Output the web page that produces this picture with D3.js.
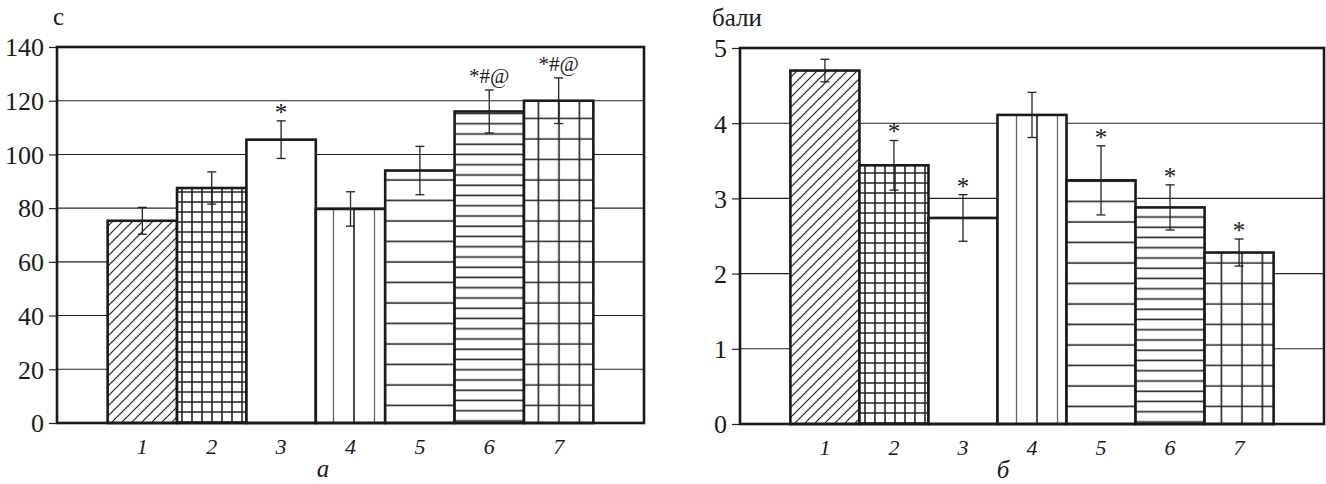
<!DOCTYPE html>
<html>
<head>
<meta charset="utf-8">
<script src="https://d3js.org/d3.v7.min.js"></script>
<style>
  body { margin: 0; background: #fff; }
  svg text { font-family: "Liberation Serif", "Times New Roman", serif; fill: #1a1a1a; }
</style>
</head>
<body>
<div id="chart"></div>
<script>
// groups 1..7, same in both panels
const groups = ["1", "2", "3", "4", "5", "6", "7"];

// panel а: time, s
const timeValues = [75.3, 87.5, 105.5, 79.7, 94, 116, 120];
const timeErrors = [5, 6, 7, 6.4, 9, 8, 8.5];
const timeMarks = ["", "", "*", "", "", "*#@", "*#@"];
const timeTicks = [0, 20, 40, 60, 80, 100, 120, 140];

// panel б: score
const scoreValues = [4.7, 3.44, 2.74, 4.11, 3.24, 2.88, 2.28];
const scoreErrors = [0.15, 0.33, 0.31, 0.3, 0.46, 0.3, 0.18];
const scoreMarks = ["", "*", "*", "", "*", "*", "*"];
const scoreTicks = [0, 1, 2, 3, 4, 5];

const fills = ["url(#diag)", "url(#fineGrid)", "#fff", "url(#vert)", "url(#horiz)", "url(#fineHoriz)", "url(#grid)"];

const width = 1326, height = 484;

const svg = d3.select("#chart").append("svg")
  .attr("width", width)
  .attr("height", height)
  .attr("font-family", "Liberation Serif, serif");

// hatch patterns
const defs = svg.append("defs");

function pattern(id, w, h, draw) {
  const p = defs.append("pattern")
    .attr("id", id)
    .attr("patternUnits", "userSpaceOnUse")
    .attr("width", w).attr("height", h);
  p.append("rect").attr("width", w).attr("height", h).attr("fill", "#fff");
  draw(p);
}

pattern("diag", 10, 10, p => {
  p.append("path")
    .attr("d", "M0,10L10,0M-2.5,2.5L2.5,-2.5M7.5,12.5L12.5,7.5")
    .attr("stroke", "#222").attr("stroke-width", 1.2);
});
pattern("fineGrid", 10, 10, p => {
  p.append("path").attr("d", "M5,0V10M0,5H10")
    .attr("stroke", "#222").attr("stroke-width", 1.6);
});
pattern("vert", 41, 10, p => {
  p.append("path").attr("d", "M10,0V10")
    .attr("stroke", "#222").attr("stroke-width", 1.6);
  p.append("path").attr("d", "M30.5,0V10")
    .attr("stroke", "#666").attr("stroke-width", 1.3);
});
pattern("horiz", 10, 20.5, p => {
  p.append("path").attr("d", "M0,10H10")
    .attr("stroke", "#222").attr("stroke-width", 1.6);
});
pattern("fineHoriz", 10, 10.25, p => {
  p.append("path").attr("d", "M0,5H10")
    .attr("stroke", "#222").attr("stroke-width", 1.6);
});
pattern("grid", 20.5, 20.5, p => {
  p.append("path").attr("d", "M10,0V20.5M0,10H20.5")
    .attr("stroke", "#222").attr("stroke-width", 1.6);
});

function drawPanel(cfg) {
  const w = cfg.right - cfg.left;
  const h = cfg.bottom - cfg.top;
  const g = svg.append("g").attr("transform", `translate(${cfg.left},${cfg.top})`);

  const x = d3.scaleBand().domain(groups).range([0, w])
    .paddingInner(0).paddingOuter(0.73);
  const y = d3.scaleLinear().domain([0, cfg.max]).range([h, 0]);

  // horizontal grid lines
  g.append("g").selectAll("line")
    .data(cfg.ticks)
    .join("line")
      .attr("x1", 0).attr("x2", w)
      .attr("y1", d => y(d)).attr("y2", d => y(d))
      .attr("stroke", "#222").attr("stroke-width", 1.1);

  // y axis ticks + labels
  const yAxis = g.append("g")
    .call(d3.axisLeft(y).tickValues(cfg.ticks).tickSize(8).tickPadding(5).tickFormat(d3.format("d")));
  yAxis.attr("font-family", null).attr("font-size", null);
  yAxis.select(".domain").remove();
  yAxis.selectAll(".tick line").attr("stroke", "#222").attr("stroke-width", 1.2);
  yAxis.selectAll("text").attr("font-size", 26).attr("dy", "0.34em");

  const data = groups.map((k, i) => ({ k, v: cfg.values[i], e: cfg.errors[i], m: cfg.marks[i], f: fills[i] }));

  // bars
  g.append("g").selectAll("rect")
    .data(data)
    .join("rect")
      .attr("x", d => x(d.k))
      .attr("y", d => y(d.v))
      .attr("width", x.bandwidth())
      .attr("height", d => h - y(d.v))
      .attr("fill", d => d.f)
      .attr("stroke", "#1a1a1a")
      .attr("stroke-width", 2.6);

  // error bars
  const eb = g.append("g").attr("stroke", "#222").attr("stroke-width", 1.3);
  data.forEach(d => {
    const cx = x(d.k) + x.bandwidth() / 2;
    const y1 = y(d.v + d.e), y2 = y(d.v - d.e);
    eb.append("line").attr("x1", cx).attr("x2", cx).attr("y1", y1).attr("y2", y2);
    eb.append("line").attr("x1", cx - 4.5).attr("x2", cx + 4.5).attr("y1", y1).attr("y2", y1);
    eb.append("line").attr("x1", cx - 4.5).attr("x2", cx + 4.5).attr("y1", y2).attr("y2", y2);
  });

  // significance marks
  g.append("g").selectAll("text")
    .data(data.filter(d => d.m))
    .join("text")
      .attr("x", d => x(d.k) + x.bandwidth() / 2)
      .attr("y", d => y(d.v + d.e) - (d.m.length > 1 ? 7 : 0))
      .attr("text-anchor", "middle")
      .attr("font-size", d => d.m.length > 1 ? 21 : 25)
      .text(d => d.m);

  // frame
  g.append("rect")
    .attr("width", w).attr("height", h)
    .attr("fill", "none")
    .attr("stroke", "#1a1a1a")
    .attr("stroke-width", 2.6);

  // x labels
  g.append("g").selectAll("text")
    .data(groups)
    .join("text")
      .attr("x", d => x(d) + x.bandwidth() / 2)
      .attr("y", h + 31)
      .attr("text-anchor", "middle")
      .attr("font-size", 22)
      .attr("font-style", "italic")
      .text(d => d);

  // unit label
  g.append("text")
    .attr("x", cfg.unitX).attr("y", -22)
    .attr("font-size", 25)
    .text(cfg.unit);

  // panel letter
  g.append("text")
    .attr("x", cfg.letterX - cfg.left).attr("y", h + 54)
    .attr("text-anchor", "middle")
    .attr("font-size", 25)
    .attr("font-style", "italic")
    .text(cfg.letter);
}

drawPanel({
  left: 57, right: 644, top: 47, bottom: 423,
  max: 140, ticks: timeTicks,
  values: timeValues, errors: timeErrors, marks: timeMarks,
  unit: "с", unitX: -4, letter: "а", letterX: 323
});

drawPanel({
  left: 740, right: 1324, top: 48, bottom: 424,
  max: 5, ticks: scoreTicks,
  values: scoreValues, errors: scoreErrors, marks: scoreMarks,
  unit: "бали", unitX: -28, letter: "б", letterX: 1003
});
</script>
</body>
</html>
